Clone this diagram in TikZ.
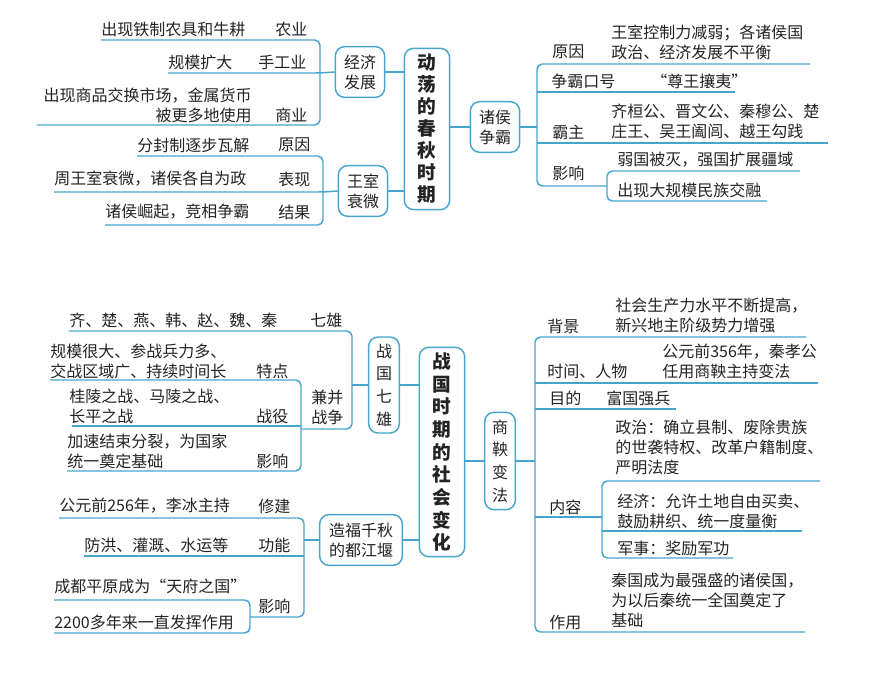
\documentclass[tikz,border=0pt]{standalone}
\usepackage{fontspec}
\setmainfont{Noto Sans CJK SC}
\definecolor{lb}{RGB}{70,165,205}
\definecolor{ink}{RGB}{35,35,35}
\tikzset{
  br/.style={draw=lb, line width=1.1pt, rounded corners=4pt},
  box/.style={draw=lb, line width=1.1pt, rounded corners=7pt, fill=white, align=center, inner sep=1pt, text=ink},
  tx/.style={anchor=west, inner sep=0pt, align=left, text=ink},
  tr/.style={anchor=east, inner sep=0pt, align=right, text=ink}
}
\begin{document}
\begin{tikzpicture}[x=0.75pt,y=0.75pt,yscale=-1,xscale=1,font=\fontsize{12}{15}\selectfont]
\useasboundingbox (0,0) rectangle (870,677);

% upper half
\node[box, minimum width=34pt, minimum height=121pt, font=\bfseries\fontsize{14}{16.5}\selectfont] (spring) at (427,129) {动\\荡\\的\\春\\秋\\时\\期};
\node[box, minimum width=37pt, minimum height=38pt] (econ) at (360,72) {经济\\发展};
\node[box, minimum width=37pt, minimum height=38pt] (royal) at (363,191) {王室\\衰微};
\node[box, minimum width=37pt, minimum height=38pt] (hegem) at (495,127) {诸侯\\争霸};
\draw[br] (econ.east) -- (econ.east -| spring.west);
\draw[br] (royal.east) -- (royal.east -| spring.west);
\draw[br] (hegem.west) -- (hegem.west -| spring.east);

% economy
\draw[br] (101,40) -- (320,40) -- (320,125) -- (37,125);
\draw[br] (168,73) -- (320,73) -- (econ.west);
\node[tx] (agri) at (101,29) {出现铁制农具和牛耕};
\node[tx] at (275,29) {农业};
\node[tx] (craft) at (168,62) {规模扩大};
\node[tx] at (258,62) {手工业};
\node[tr] (trade) at (252,105) {出现商品交换市场，金属货币\\被更多地使用};
\node[tx] at (275,115) {商业};

% royal decline
\draw[br] (137,156) -- (323,156) -- (323,225) -- (105,225);
\draw[br] (54,192) -- (323,192) -- (royal.west);
\node[tx] at (137,145) {分封制逐步瓦解};
\node[tx] at (278,145) {原因};
\node[tx] at (54,179) {周王室衰微，诸侯各自为政};
\node[tx] at (278,179) {表现};
\node[tx] at (105,212) {诸侯崛起，竞相争霸};
\node[tx] at (278,212) {结果};

% hegemony
\draw[br] (810,64) -- (537,64) -- (537,186) -- (607,186);
\draw[br] (735,92) -- (537,92);
\draw[br] (828,143) -- (537,143);
\draw[br] (hegem.east) -- (537,127);
\draw[br] (800,171) -- (607,171) -- (607,201) -- (767,201);
\node[tx] at (552,52) {原因};
\node[tx] at (611,42) {王室控制力减弱；各诸侯国\\政治、经济发展不平衡};
\node[tx] at (551,81) {争霸口号};
\node[tx] at (651,81) {“尊王攘夷”};
\node[tx] at (552,132) {霸主};
\node[tx] at (611,121) {齐桓公、晋文公、秦穆公、楚\\庄王、吴王阖闾、越王勾践};
\node[tx] at (552,173) {影响};
\node[tx] at (617,160) {弱国被灭，强国扩展疆域};
\node[tx] at (617,190) {出现大规模民族交融};

% lower half
\node[box, minimum width=34pt, minimum height=157pt, font=\bfseries\fontsize{14}{17}\selectfont] (warring) at (442,452) {战\\国\\时\\期\\的\\社\\会\\变\\化};
\node[box, minimum width=23pt, minimum height=72pt, font=\fontsize{12}{17}\selectfont] (seven) at (384,385) {战\\国\\七\\雄};
\node[box, minimum width=62pt, minimum height=38pt] (dam) at (361,540) {造福千秋\\的都江堰};
\node[box, minimum width=23pt, minimum height=73pt, font=\fontsize{12}{17}\selectfont] (reform) at (500,461) {商\\鞅\\变\\法};
\draw[br] (seven.east) -- (seven.east -| warring.west);
\draw[br] (dam.east) -- (dam.east -| warring.west);
\draw[br] (reform.west) -- (reform.west -| warring.east);

% seven states
\draw[br] (69,331) -- (352,331) -- (352,429) -- (301,429);
\draw[br] (seven.west) -- (352,385);
\draw[br] (50,380) -- (301,380) -- (301,471) -- (67,471);
\draw[br] (72,426) -- (301,426);
\node[tx] at (69,320) {齐、楚、燕、韩、赵、魏、秦};
\node[tx] at (310,320) {七雄};
\node[tx] at (311,407) {兼并\\战争};
\node[tx] at (50,361) {规模很大、参战兵力多、\\交战区域广、持续时间长};
\node[tx] at (256,371) {特点};
\node[tx] at (69,406) {桂陵之战、马陵之战、\\长平之战};
\node[tx] at (256,416) {战役};
\node[tx] at (67,451) {加速结束分裂，为国家\\统一奠定基础};
\node[tx] at (256,461) {影响};

% dujiangyan
\draw[br] (59,518) -- (304,518) -- (304,617) -- (250,617);
\draw[br] (84,556) -- (304,556);
\draw[br] (dam.west) -- (304,540);
\draw[br] (54,600) -- (250,600) -- (250,633) -- (54,633);
\node[tx] at (59,506) {公元前256年，李冰主持};
\node[tx] at (258,506) {修建};
\node[tx] at (84,545) {防洪、灌溉、水运等};
\node[tx] at (258,545) {功能};
\node[tx] at (258,606) {影响};
\node[tx] at (54,586) {成都平原成为“天府之国”};
\node[tx] at (54,622) {2200多年来一直发挥作用};

% shang yang reform
\draw[br] (806,337) -- (535,337) -- (535,632) -- (805,632);
\draw[br] (reform.east) -- (535,461);
\draw[br] (818,383) -- (535,383);
\draw[br] (676,409) -- (535,409);
\draw[br] (535,517) -- (602,517);
\draw[br] (820,481) -- (602,481) -- (602,558) -- (733,558);
\draw[br] (802,531) -- (602,531);
\node[tx] at (547,326) {背景};
\node[tx] at (615,315) {社会生产力水平不断提高，\\新兴地主阶级势力增强};
\node[tx] at (547,371) {时间、人物};
\node[tx] at (662,361) {公元前356年，秦孝公\\任用商鞅主持变法};
\node[tx] at (549,398) {目的};
\node[tx] at (606,398) {富国强兵};
\node[tx] at (549,507) {内容};
\node[tx] at (615,447) {政治：确立县制、废除贵族\\的世袭特权、改革户籍制度、\\严明法度};
\node[tx] at (617,511) {经济：允许土地自由买卖、\\鼓励耕织、统一度量衡};
\node[tx] at (617,548) {军事：奖励军功};
\node[tx] at (549,622) {作用};
\node[tx] at (611,600) {秦国成为最强盛的诸侯国，\\为以后秦统一全国奠定了\\基础};
\end{tikzpicture}
\end{document}
